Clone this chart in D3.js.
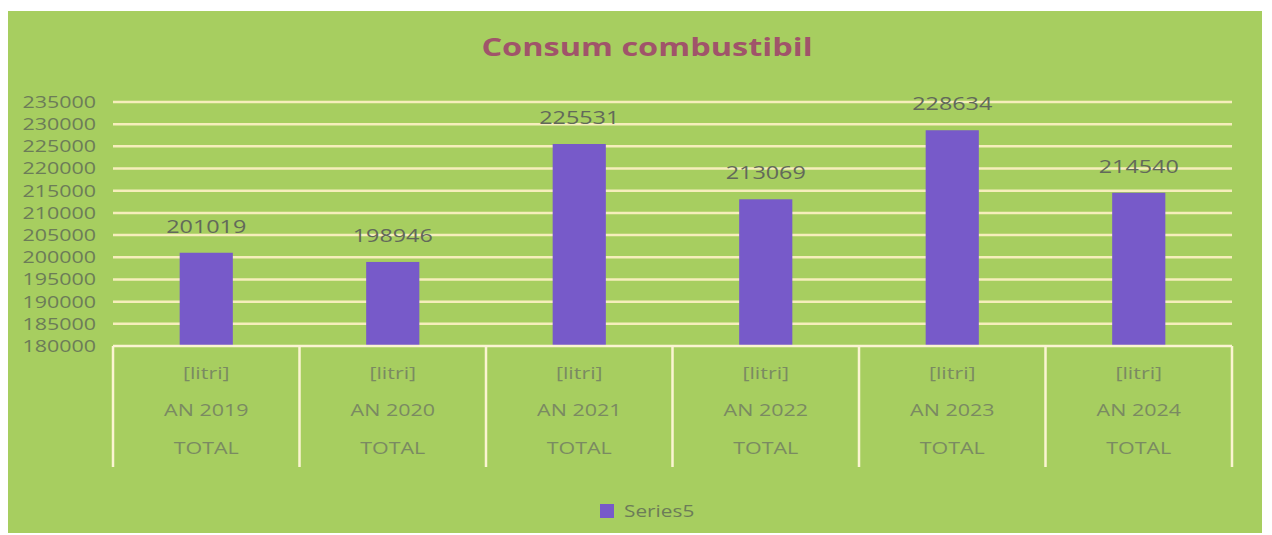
<!DOCTYPE html>
<html>
<head>
<meta charset="utf-8">
<script src="https://cdn.jsdelivr.net/npm/d3@7"></script>
<style>
  html, body { margin: 0; padding: 0; background: #ffffff; }
  svg { display: block; }
  text { font-family: "Open Sans", "Noto Sans", sans-serif; }
</style>
</head>
<body>
<svg id="chart" width="1272" height="535"></svg>
<script>
// ---- data ----
const title = "Consum combustibil";
const categories = ["AN 2019", "AN 2020", "AN 2021", "AN 2022", "AN 2023", "AN 2024"];
const unitLabel = "[litri]";
const groupLabel = "TOTAL";
const values = [201019, 198946, 225531, 213069, 228634, 214540];
const seriesName = "Series5";
const yTicks = [180000, 185000, 190000, 195000, 200000, 205000, 210000, 215000, 220000, 225000, 230000, 235000];

// ---- layout ----
const W = 1272, H = 535;
const plot = { left: 113, right: 1232, top: 102, bottom: 346 };
const tableBottom = 467;
const SX = 1.3; // horizontal stretch of the text in the reference

const svg = d3.select("#chart");

svg.append("rect")
  .attr("x", 8).attr("y", 11).attr("width", 1254).attr("height", 522)
  .attr("fill", "#a7ce60");

const x = d3.scaleBand().domain(categories).range([plot.left, plot.right]).padding(0);
const y = d3.scaleLinear().domain([yTicks[0], yTicks[yTicks.length - 1]]).range([plot.bottom, plot.top]);

function stretchText(sel, tx, ty) {
  return sel.attr("transform", `translate(${tx},${ty}) scale(${SX},1)`);
}

// title
stretchText(svg.append("text"), 647, 47)
  .attr("text-anchor", "middle").attr("dy", "0.35em")
  .attr("font-size", 25).attr("font-weight", 700)
  .attr("fill", "#a0546a")
  .text(title);

// gridlines
svg.append("g").selectAll("line")
  .data(yTicks.slice(1))
  .join("line")
  .attr("x1", plot.left).attr("x2", plot.right)
  .attr("y1", d => y(d)).attr("y2", d => y(d))
  .attr("stroke", "#f6eebc").attr("stroke-width", 2.5);

// y tick labels
const yAxisG = svg.append("g");
yTicks.forEach(t => {
  stretchText(yAxisG.append("text"), 96, y(t))
    .attr("text-anchor", "end").attr("dy", "0.36em")
    .attr("font-size", 16.5)
    .attr("fill", "#6c7c58")
    .text(t);
});

// bars
const bw = x.bandwidth() * 0.285;
svg.append("g").selectAll("rect")
  .data(values)
  .join("rect")
  .attr("x", (d, i) => x(categories[i]) + (x.bandwidth() - bw) / 2)
  .attr("y", d => y(d))
  .attr("width", bw)
  .attr("height", d => y(yTicks[0]) - y(d))
  .attr("fill", "#775ac9");

// data labels
const lblG = svg.append("g");
values.forEach((v, i) => {
  stretchText(lblG.append("text"), x(categories[i]) + x.bandwidth() / 2, y(v) - 20)
    .attr("text-anchor", "middle")
    .attr("font-size", 18)
    .attr("fill", "#62695a")
    .text(v);
});

// category table lines
const tbl = svg.append("g");
tbl.append("line")
  .attr("x1", plot.left).attr("x2", plot.right)
  .attr("y1", y(yTicks[0])).attr("y2", y(yTicks[0]))
  .attr("stroke", "#fbf4d2").attr("stroke-width", 2.5);
const edges = categories.map(c => x(c)).concat([plot.right]);
tbl.selectAll("line.v")
  .data(edges)
  .join("line").attr("class", "v")
  .attr("x1", d => d).attr("x2", d => d)
  .attr("y1", y(yTicks[0])).attr("y2", tableBottom)
  .attr("stroke", "#fbf4d2").attr("stroke-width", 2.5);

// category labels
const catG = svg.append("g");
categories.forEach(c => {
  const cx = x(c) + x.bandwidth() / 2;
  [[unitLabel, 373], [c, 410], [groupLabel, 448]].forEach(([t, ty]) => {
    stretchText(catG.append("text"), cx, ty)
      .attr("text-anchor", "middle").attr("dy", "0.35em")
      .attr("font-size", 16.5)
      .attr("fill", "#7a8a62")
      .text(t);
  });
});

// legend
const leg = svg.append("g");
leg.append("rect").attr("x", 600).attr("y", 504).attr("width", 14).attr("height", 14).attr("fill", "#775ac9");
stretchText(leg.append("text"), 624, 511)
  .attr("dy", "0.35em")
  .attr("font-size", 16)
  .attr("fill", "#6c7c58")
  .text(seriesName);
</script>
</body>
</html>
